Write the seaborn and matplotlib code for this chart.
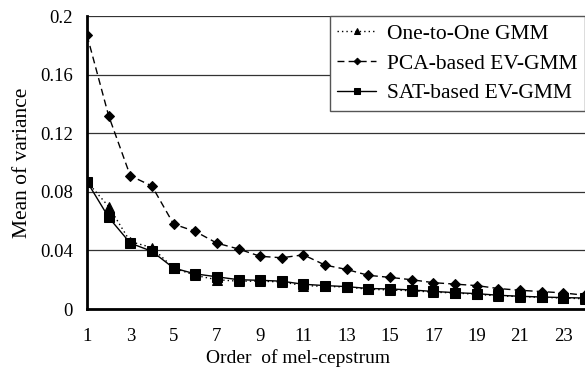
import numpy as np
import pandas as pd
import matplotlib
matplotlib.use("Agg")
import matplotlib.pyplot as plt
import seaborn as sns

order = list(range(1, 25))
one_to_one = [0.087, 0.070, 0.046, 0.042, 0.028, 0.023, 0.020, 0.019, 0.019, 0.0185,
              0.016, 0.0155, 0.015, 0.0135, 0.013, 0.0125, 0.0115, 0.011, 0.010, 0.009,
              0.0085, 0.008, 0.0075, 0.007]
pca_ev = [0.187, 0.132, 0.091, 0.084, 0.058, 0.053, 0.045, 0.041, 0.036, 0.035,
          0.037, 0.030, 0.027, 0.023, 0.0216, 0.020, 0.018, 0.017, 0.016, 0.014,
          0.0128, 0.0119, 0.011, 0.0094]
sat_ev = [0.087, 0.0626, 0.045, 0.0394, 0.028, 0.024, 0.022, 0.020, 0.0196, 0.019,
          0.0169, 0.016, 0.0153, 0.014, 0.0137, 0.013, 0.012, 0.0112, 0.0105, 0.0094,
          0.0087, 0.0082, 0.0078, 0.0075]
series_names = ["One-to-One GMM", "PCA-based EV-GMM", "SAT-based EV-GMM"]
y_ticks = [0, 0.04, 0.08, 0.12, 0.16, 0.2]
y_tick_labels = ["0", "0.04", "0.08", "0.12", "0.16", "0.2"]

sns.set_theme(style="white")
plt.rcParams["font.family"] = ["Liberation Serif", "DejaVu Serif"]

df = pd.DataFrame({
    "order": order * 3,
    "value": one_to_one + pca_ev + sat_ev,
    "series": [series_names[0]] * 24 + [series_names[1]] * 24 + [series_names[2]] * 24,
})

fig = plt.figure(figsize=(5.85, 3.67), dpi=100)
ax = fig.add_axes([0.1487, 0.158, 0.851, 0.798])

styles = {
    series_names[0]: dict(marker="^", dashes=(1, 2.2), ms=6.5),
    series_names[1]: dict(marker="D", dashes=(5, 3), ms=4.8),
    series_names[2]: dict(marker="s", dashes=None, ms=6.8),
}
for name in series_names:
    st = styles[name]
    sub = df[df["series"] == name]
    sns.lineplot(x="order", y="value", data=sub, ax=ax, color="black", lw=1.0,
                 marker=st["marker"], markersize=st["ms"], markeredgecolor="black",
                 label=name)
    if st["dashes"] is not None:
        ax.lines[-1].set_dashes(st["dashes"])

ax.set_xlim(1, 24)
ax.set_ylim(0, 0.2)
ax.set_yticks(y_ticks)
ax.set_yticklabels(y_tick_labels, fontsize=13.5)
ax.set_xticks(order)
ax.set_xticklabels([str(v) if v % 2 == 1 else "" for v in order], fontsize=13.5)
ax.tick_params(axis="x", direction="in", length=6, width=1, pad=14, color="black")
ax.tick_params(axis="y", length=0, pad=10)
for t in ax.get_xticklabels() + ax.get_yticklabels():
    t.set_color("black")

ax.yaxis.grid(True, color="#333333", lw=0.9)
ax.set_axisbelow(True)
for side in ["top", "right"]:
    ax.spines[side].set_visible(False)
ax.spines["left"].set_color("black")
ax.spines["left"].set_linewidth(2)
ax.spines["bottom"].set_color("black")
ax.spines["bottom"].set_linewidth(2)

ax.set_xlabel("Order  of mel-cepstrum", fontsize=14, color="black", va="center")
ax.xaxis.set_label_coords(0.424, -0.167)
ax.set_ylabel("Mean of variance", fontsize=15.5, color="black", labelpad=6)

leg = ax.legend(loc="upper right", bbox_to_anchor=(1.0, 1.0), frameon=True,
                fontsize=15.5, handlelength=1.8, handletextpad=0.5,
                borderpad=0.35, labelspacing=0.45, fancybox=False,
                borderaxespad=0, markerscale=0.7, framealpha=1)
leg.get_frame().set_edgecolor("#555555")
leg.get_frame().set_linewidth(1.0)
for t in leg.get_texts():
    t.set_color("black")

fig.savefig("out.png", dpi=100)
